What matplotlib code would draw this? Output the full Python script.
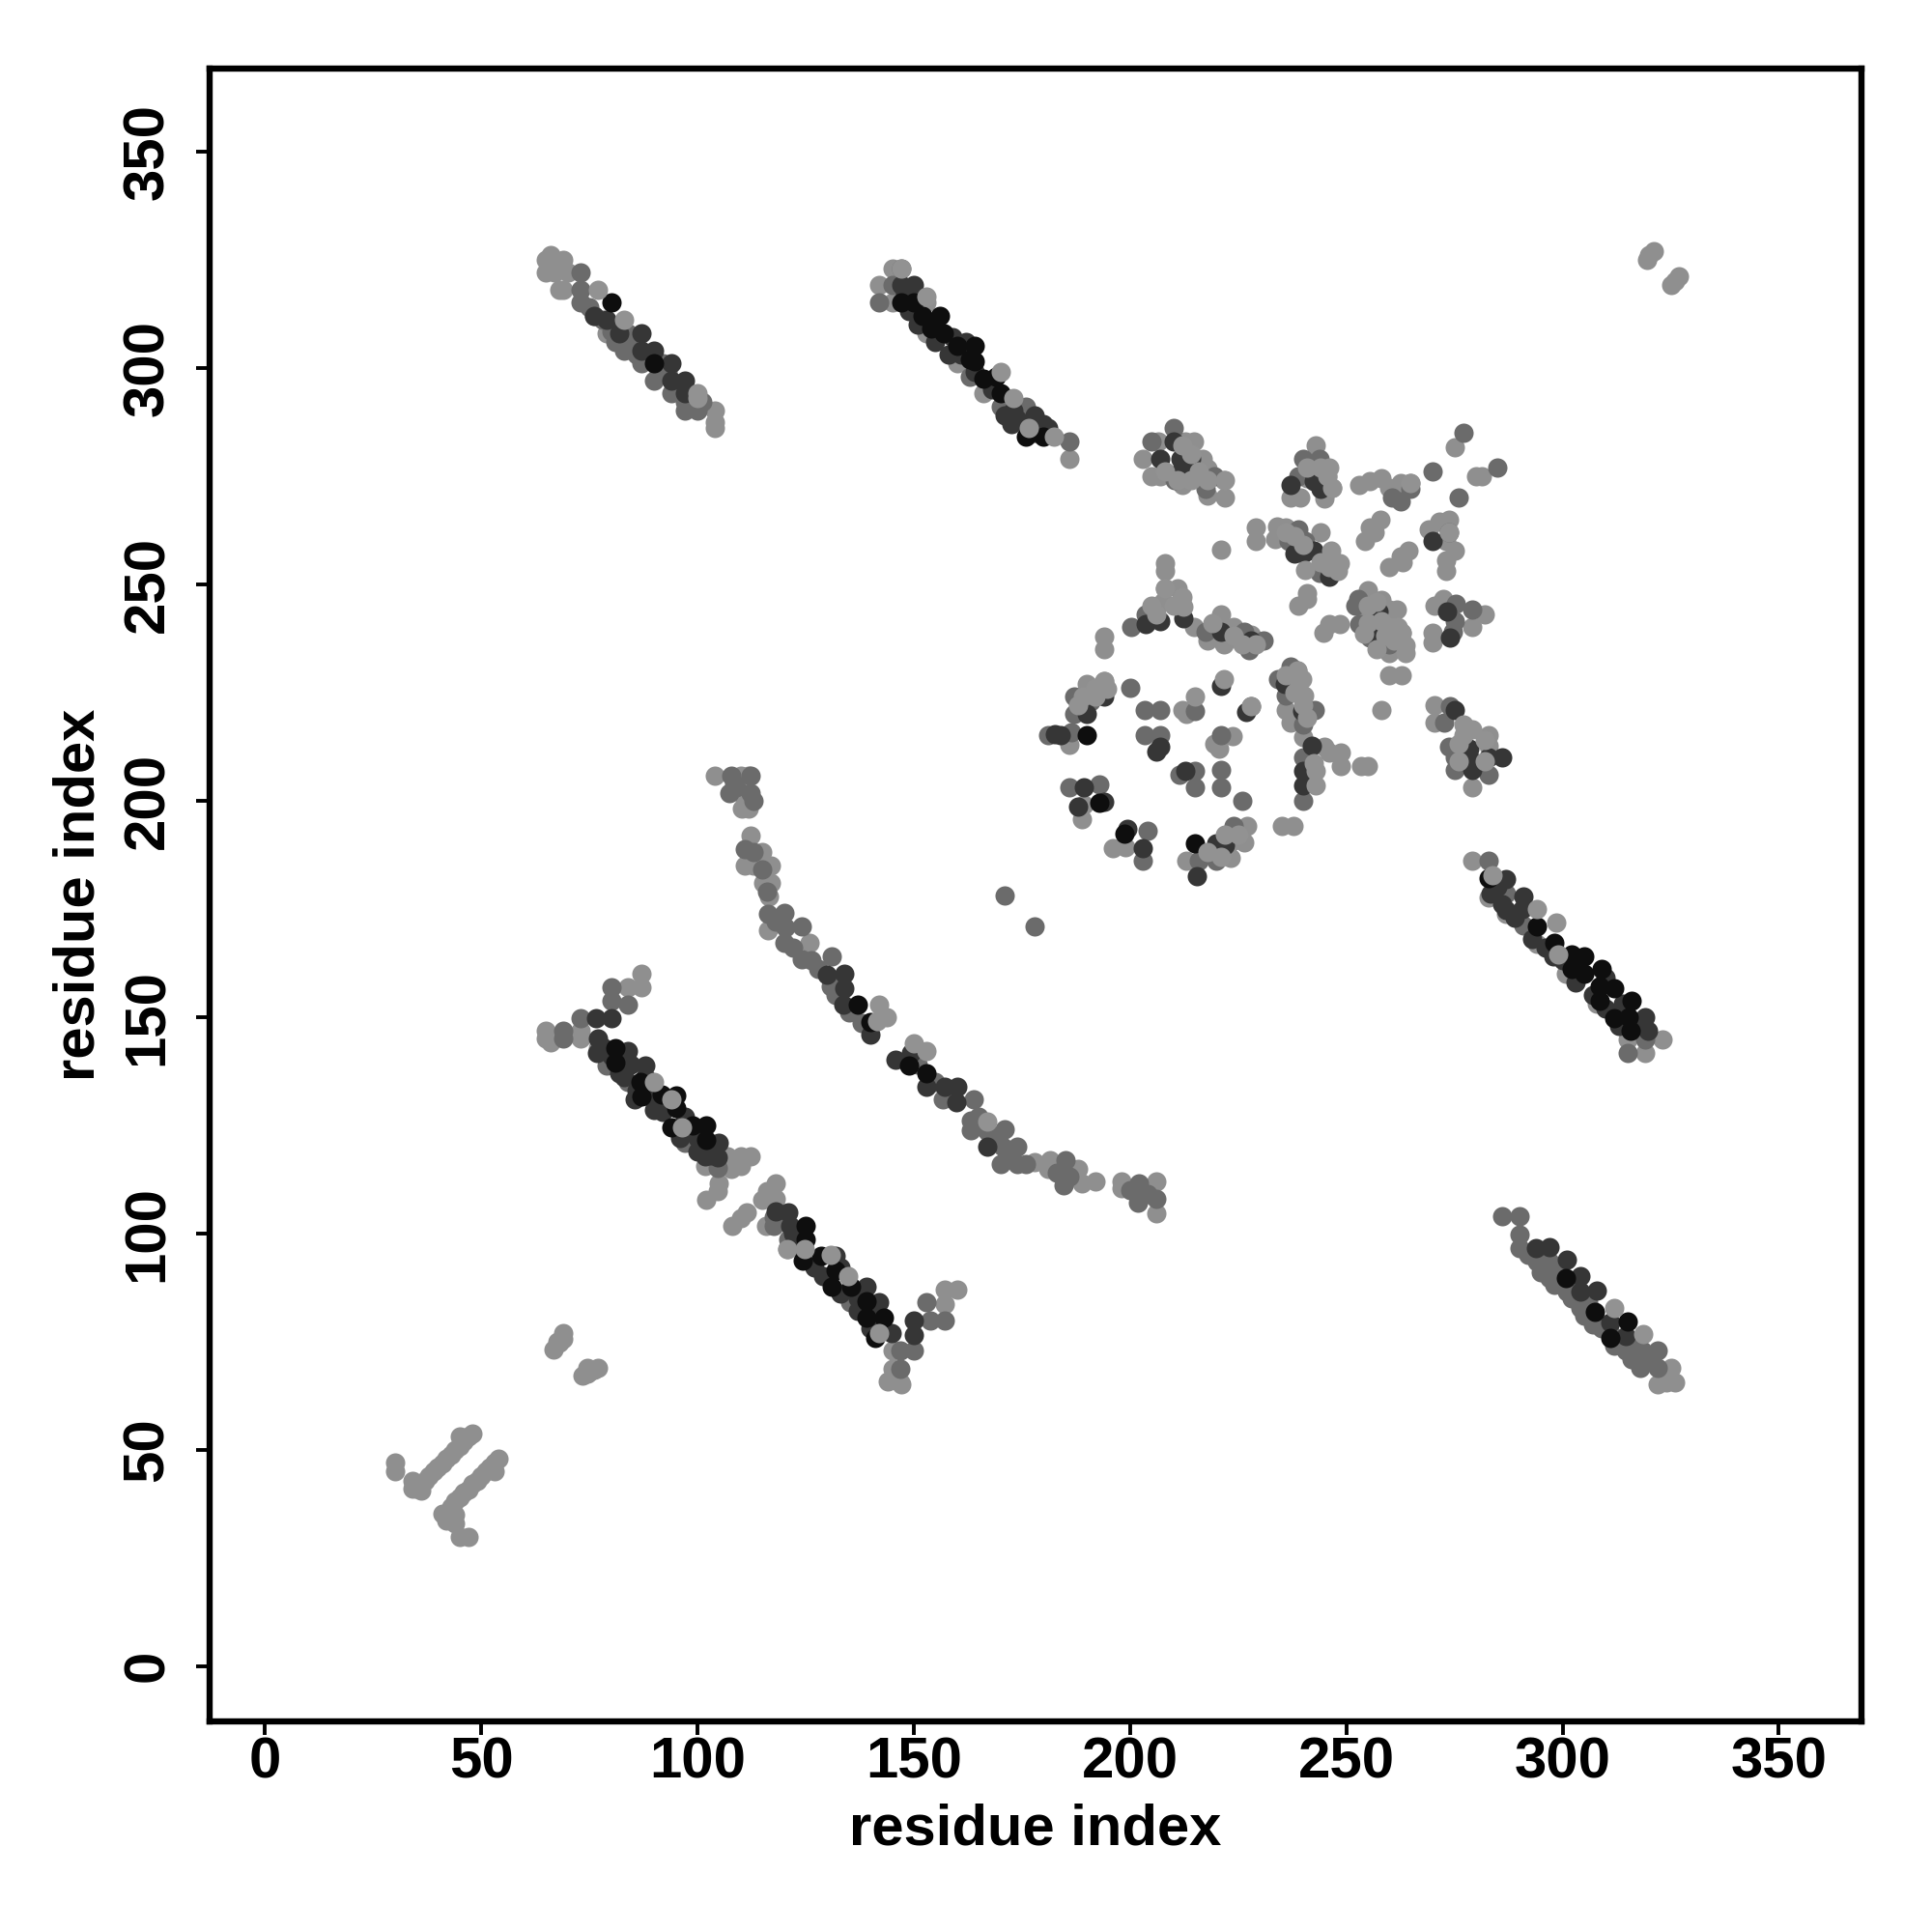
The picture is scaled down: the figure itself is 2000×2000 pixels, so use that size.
import matplotlib
matplotlib.use("Agg")
import matplotlib.pyplot as plt

plt.rcParams['font.family'] = ['Liberation Sans', 'DejaVu Sans']

tick_values = [0, 50, 100, 150, 200, 250, 300, 350]
axis_label = "residue index"

# contact points (x, y), grouped by grey level; drawn light -> dark -> top
light = [
 # band 1
 (65,325),(66,326),(65,322),(67,322),(69,325),(70,322),(69,318),(68,318),(79,308),(104,290),(104,287.5),(104,286),
 # band 2
 (145,323),(142,319),(145,315),(153,315),(153,308),(160,301),(166,294),(186,279),
 # cluster A
 (206.5,283),(214.7,283),(212.7,283),(203,279),(216.7,279),(207,275),(205,275),(217.8,276.7),(221.8,274),(217.8,270.4),(222,270),(212,273),
 # B, C
 (243,282),(245.6,275),(246.8,272.3),(237,270),(239.4,270),(244.9,269.7),(241,274.5),
 (253,273),(255.4,273.7),(258,274.5),(260,272.3),(262.5,273.4),(264.8,273.4),
 (275,281.6),(281.3,275),(280,275),
 # D
 (229,263),(229,260),(221,258),(234,263.3),(236,263),(233.5,260.4),(244,262),(241,248),(239,245),(241,246.5),
 (257.8,264.8),(255.4,263),(254.3,260),(256.5,262),(264.4,257.8),(262.5,256.3),(260,254),(263,255),
 # E
 (273.8,264.8),(271.5,264.4),(269,262.6),(275,257.8),(273,255.5),(273,253),(273,260),
 # F
 (255,248.5),(258,246.3),(261.7,244),(254.6,243.6),(260,244),(248.4,240.7),(246,240.7),(244.8,238.8),(260,240),(262.9,238.8),(260,234),(260,229),(262.9,229),(258,221),
 # G
 (272.3,246.6),(270.3,245),(282,243),(279,240),(270,238.8),(270,236.5),
 # H
 (208,254.8),(208,253),(208,249),(211,249),(207.7,246),(214.7,240),(221,243),(224,240),(228,238.4),(221.8,236),(217.8,237),(194,237.8),(194,235),
 # I
 (194,227.6),(190,227),(191,224),(186,212.8),
 (212,221),(213,220),(223.7,214.8),(220.6,212),(219.5,213),
 # J
 (238.6,230),(236,221),(237,218),(240,214.6),(235,194),(237.8,194),(253.5,208),(255,208),(248.8,208),(248.8,211),(246,211),(244.9,212.4),
 # K
 (270.3,222),(270.3,218),(283,215),(283,212.7),(279,203),
 # lower arc
 (189.3,199),(188.9,195.6),(199,189.3),(196,189),(213,186),(227,194),(224,190.8),(226.4,190.4),(223.3,186.7),
 # lower-left band
 (87,159.9),(87,156.9),(84,156.9),(65,146.9),(65,145),(66,144),(73,146.9),(73,145),(77,142.8),
 (101.7,115.6),(107,117.8),(110,117.8),(112.2,117.8),(107.7,114.9),(110,115.6),(105,111.5),(104.7,109.7),(102,107.8),
 (118,111.5),(116,109.7),(118,108),(115,107.8),(111.4,104.8),(108,101.8),(110,103.5),(115.9,101.8),(120.7,96.3),
 (157.2,83.6),(157.2,87),(160,87),(145,72.8),(145,68.7),(144,65.8),(147,65),(146.8,65.5),
 (69,76.9),(68,74.7),(66.8,73.2),(77,69),(74.6,69),(73.5,67),(67.5,75),(69,75.5),(75,68),(76,68.5),(74.5,67.5),
 # arc
 (104,205.8),(111.8,205.8),(110,205.8),(110,201.8),(110.3,198.2),(111.8,198.2),
 (112.2,191.9),(115,188),(111,184.9),(117,184.9),(113,184.9),(117,181),(115.2,181),(116.6,177.8),(116.3,170),(126,167),
 (178,116.4),(181.4,116.8),(181,114.9),(188,114.9),(188.8,111.6),(192,112),(198,112),(198,110.4),(206,112),(206,104.5),
 # right bands
 (279,186),(283,177.6),(287,173.8),(294,166.9),(300.8,160),(308,153),(315,144.7),(323,144.7),(319,141.7),
 (325,69),(322,65.2),(326,65.6),(324,65.5),
 # bottom-left pieces
 (30,47),(30,45),(34,42.7),(35,41),(37,42.7),(39,45),(41,46.8),(43,48.9),(45,53),(45,50.9),(48,53.8),
 (38,44),(40,46),(42,48),(44,50),(46,52),(47,53),(36,42),(36,40.5),(34,41),
 (41,35.2),(42,33.7),(43,35),(43,36.7),(45,39),(47,40.8),(49,42.7),(51,45),(53,45),(54,47.9),(45,29.9),(47,29.9),
 (44,38),(46,40),(48,42),(50,44),(52,46),(53,47),(44,35),(44,33),
 # top right
 (319.5,325),(320,326),(321,327),(325,319),(326,320),(327,321),
]

mid = [
 (73,322),(73,318),(73,315),(76,312),(83,307),(84,308),(83,304),(87,301),(90,297),(94,294),(100,290),(97,290),
 (75,314),(78,311),(80,308.5),(81,306),(84,305.5),(86,303),(88,302.5),(91,299),(92,301),(93,299),(95,295.5),(97,292),(99,292),(101,292),
 (147,323),(145,319),(142,315),(163,298),(170,291),(176,291),(176,287),(186,283),
 (205,283),(219.4,275),(217.4,272),(210.4,274),(210,286),
 (240,279),(243.7,279),(239,275),(264.8,272),(260.5,270),(262.5,269),(270,276),(277,285),(276,270),(285,277),
 (239,262.6),(236.6,260),(240.5,260),(243.7,252.6),(247.6,253.3),(273.8,262),
 (252.7,246.6),(252,245),(253,240.7),(255.4,237.7),(260,236),
 (275.4,245.5),(279,244),(275,241.5),(274.6,239),
 (200.2,240),(203.7,243),(217.4,239),(226.4,239),(230.8,237),(227.6,234.7),
 (187,224),(190.8,222.8),(187,220),(181,215),(186.5,215.7),(200,226),
 (203.3,221),(207,221),(203.3,215),(207,215),(215,220.6),(228,221.7),(221,215),(215,206.8),(211.5,206),(215,203),(221,207),(221,203),(226,200),
 (237,231),(234.3,228),(236,224.3),(242.7,221),(240,217.6),(240,210),(240,200),
 (274,221.7),(272.7,218),(273.8,212.4),(275,210),(275,207),(283,206),
 (186,203),(193,203.8),(204,193),(203,186),(216,186),(220,186),(224,194),
 (80,156.9),(80,153.6),(84,152.8),(73,149.8),(69,146.9),(69,145),(79,138.7),(84,135),(97,121),(98.8,120.8),(104.7,115),
 (117.7,103.7),(117.7,101.8),(121,98.5),(135.2,84),(153,84),(153.8,79.9),(157.2,79.9),(150,72.8),(146.8,72.8),(146.8,68.7),
 (107.7,205.8),(112.2,205.8),(107.3,201.8),(112.2,201.8),(111,188.8),
 (108.5,204),(109,203),(113,200),(113,188),(115,184),(116,179),(118,172),(122,166),(128,161),(132,155),(135,151),(138,148.5),
 (151,139),(155,135),(158,132),(165,127),(168,122),(172,118),(176,116),(183,114),(186,113),(200,110),(204,109),
 (116.3,173.7),(120,174),(120.4,170.7),(124,170.9),(120,167),(124,163.3),(126.3,163),(131,163.9),(130.8,157),
 (156.8,130.9),(163.9,130.9),(163.2,126),(163.2,123.9),(166.9,123.5),(171,124),(170.6,120),(174,120),(170,116),(174,116),(185,116.8),(184.7,111),
 (202,111.6),(202,109),(206,107.9),(201.8,107),(171,178),(178,170.9),
 (283,186),(287,178.5),(291,171.2),(319,144.7),(315,141.7),
 (286,103.9),(290,103.9),(290,99.8),(290,96.6),(294,93.4),(297,93.4),(297,89.6),(301,86.6),(304,82.7),(307,78.9),(314.6,73),(318.3,73),(322,73),(318,69),(322,69),
 (292,95),(295,91),(298,88),(302,85),(305,81),(309,78),(312,74),(316,71),(299,91),(303,88),(306,84),(311,77),(316,75),(320,71),
]

dark = [
 (76,312),(79,311),(82,308),(87,308),(90,304),(87,304),(94,301),(97,297),(94,297),(97,294),
 (147,319),(150,319),(173,290),(172.5,287),(180,287),
 (149,313),(151,310),(155,306),(158,303),(161,303),(168,295),(171,289),(174,288),(178,285),(178,289),(181,286),(148,317),(155,310),(159,307),(162,306),(164,299),
 (207,279),(211.6,279),(214,279),(211.6,276),(214,276),(210,283),
 (237,273),(242.5,273.7),(244,272),
 (238,257),(242.5,257.8),(240,257),(246,251.8),(270,260),
 (257.4,243.6),(257,240),(257.4,237.7),(273.4,243.6),(274,237.7),
 (203.7,240.7),(206.9,241.4),(212.4,242),(221,239),(228,237),
 (194,224),(190,220),(182.6,215.4),(184,215),(207,212.4),(206,211.3),(221,226.5),(226.8,220.5),(212.7,206.8),
 (235.8,227),(239.8,220.6),(242,212.7),(240,206.8),(240,203.5),
 (275,221),(278.5,212),(278.5,210),(286,210),(283,210),(279,207),
 (189.3,203),(188,198.6),(194,199.8),(199.4,193.4),(203,189),(220,190),(222,189.7),(215.5,182.6),
 (76.5,149.8),(80,149.8),(77,145),(76.8,141.6),(84,142),(84.6,139),(88,138.8),(89.7,130.9),(85.4,130.9),
 (78,143),(80,141),(82,137),(83,136),(86,133),(88,136),(90,128.5),(92,128),(97,127),(96,122),(100,119),(100,122),(103,118),
 (118,105),(122,100),(123,97),(127,92),(129,90),(133,86),(137,82),(140,78),(137,85),(141,82),(133,92),
 (105,120.8),(101.7,117.8),(104.7,117.5),(121,104.8),(121.5,101.8),(132,94.8),(139,87.7),(142,84),(144.9,76.9),(150,79.9),(150,76.5),
 (130,159.7),(134,160),(134,156.6),(133.8,152.9),(140,145.8),(149.4,141.7),(145.7,140),(153,133.9),(157.2,133.9),(160,133.9),(159.8,130.2),(166.9,120),
 (287,181.9),(283.3,178.5),(291,177.8),(287,174.6),(290.8,175),(297.8,164),(319,150),(319.8,146.8),
 (285,180),(286,176),(289,173),(293,168),(296,166),(300,163),(303,158),(307,155),(310,152),(313,148),(317,148),(303,163),(310,159),(314,153),
 (293.8,96.6),(297,96.8),(301,93.9),(304.2,90),(304.2,86.6),(308,86.8),(311,79.3),(314.6,76.3),
]

black = [
 (80,315),(90,301),
 (147,315),(150,315),(154,309),(152,312),(157,308),(156,312),(160,305),(164,305),(163,302),(164,301.5),(166,297.5),(169,298),(170,294),(176,284),(180,284),
 (192.8,199.4),(198.7,192.3),(215,190),(190,215),
 (81,142.8),(81,139.4),(86.9,135),(87,131.6),(91.7,132),(95,131.8),(95,129),(94,124.5),(98.8,125),(102,124.9),(102,121.6),
 (125,101.8),(125,98.5),(124.4,93.7),(128.5,94.8),(131.9,91.4),(131,87.7),(135.6,87.7),(139,84.4),(139,80.6),(143,80.6),(141,75.8),
 (137,152.9),(140,148.8),(149,138.7),(153,136.9),
 (283,182),(294,170.8),(298,167),(302,164.4),(305,164),(302,161),(305,160),(309,161),(308.6,157),(312,156.7),(308.6,153.7),(316,153.7),(312,149.8),(315.3,150),(315.7,146.8),
 (300.8,89.6),(307.5,81.9),(315,79.7),(311,75.9),
]

# pale dots that sit over the dark ones
top_light = [
 (77,318),(83,311),(100,294),(100,293),(170,299),(173,293),(182.5,284),(176.5,286),
 (147,323),(153,316.5),
 (216,276),(218,274),(222,274),(212,282),(214,280),(208,276),(211,274),(214,274),
 (241,277),(244,277),(246,277),
 (246.8,272.3),(245.6,275),(264.8,273.4),(248.4,254.8),(246.4,257.8),(245.2,254.8),(240.5,253.3),
 (236,262),(238,261),(240,259),(244,255),(246,254),(248,253),
 (255,245),(257,246),(255,241),(258,241.5),(259,238),(261,237),(262,240),(257,235),(254,238.5),
 (273.8,262),(262.9,238.8),(263.6,235.8),(263.6,234),(260,240),
 (212.4,244.8),(208,249),(205,245),(206,243),(212,247),(210,245),(219,241),(224,238),(226,236),(229,236),
 (194,227.6),(194.7,225.8),(221.7,228),(228,221.7),(215,224),(192,226),(189,224),(188,222),(192,224),
 (239.8,228),(240.2,224.3),(238.6,230),(243,206.8),(243,203.5),(242.5,208.7),(277,217.6),(279,216.5),
 (238,229),(239,226),(240,222),(238,225),(236,229),(241,219),
 (277,215),(282,214),(276,213),(276,209),(282,209),
 (225,192),(222,192),(218,188),(221,187),
 (90,135),(94,131),(96.5,124.5),(130.8,95),(134.9,90),(141.9,76.9),(124.8,96.3),(120.7,96.3),
 (142,152.9),(143.8,149.9),(141.6,149),(150,143.9),(153,142),(166.9,125.9),
 (283.7,182.7),(294,174.9),(298.6,171.8),(299,164.4),(312,82.7),(318.7,76.8),
]

levels = [
 (light, "#8f8f8f"),
 (mid, "#6b6b6b"),
 (dark, "#363636"),
 (black, "#0e0e0e"),
 (top_light, "#929292"),
]

fig = plt.figure(figsize=(10, 10), dpi=200)
ax = fig.add_axes([217/2000, 1 - 1782/2000, (1927-217)/2000, (1782-71)/2000])

for pts, colour in levels:
    xs = [p[0] for p in pts]
    ys = [p[1] for p in pts]
    ax.scatter(xs, ys, s=52, c=colour, linewidths=0, zorder=3)

ax.set_xlim(-12.8, 369.1)
ax.set_ylim(-12.8, 369.1)
ax.set_xticks(tick_values)
ax.set_yticks(tick_values)
ax.set_xticklabels([str(v) for v in tick_values], fontsize=21.6, fontweight='bold')
ax.set_yticklabels([str(v) for v in tick_values], fontsize=21.6, fontweight='bold',
                   rotation=90, va='center')
ax.tick_params(axis='both', length=5, width=1.4)
ax.tick_params(axis='x', pad=0.5)
ax.tick_params(axis='y', pad=8)
ax.set_xlabel(axis_label, fontsize=21.5, fontweight='bold', labelpad=5)
ax.set_ylabel(axis_label, fontsize=21.5, fontweight='bold', labelpad=6)
for s in ax.spines.values():
    s.set_linewidth(2.3)

fig.savefig("out.png", dpi=200, facecolor='white')
